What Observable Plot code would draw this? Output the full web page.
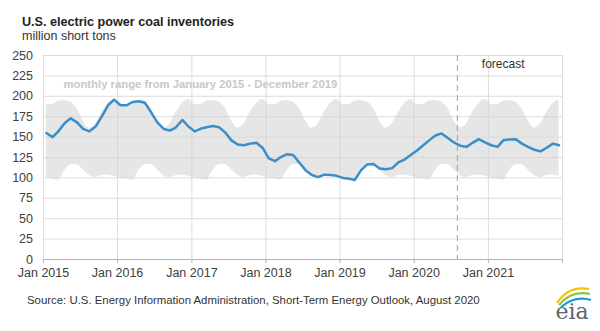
<!DOCTYPE html>
<html>
<head>
<meta charset="utf-8">
<script src="https://cdn.jsdelivr.net/npm/d3@7"></script>
<script src="https://cdn.jsdelivr.net/npm/@observablehq/plot@0.6"></script>
<style>
  html, body { margin: 0; padding: 0; background: #fff; }
  body { width: 600px; height: 331px; position: relative; overflow: hidden;
         font-family: "Liberation Sans", Arial, sans-serif; }
  #title { position: absolute; left: 22px; top: 14px; font-size: 12.6px; font-weight: bold; color: #222; line-height: 16px; white-space: nowrap; }
  #subtitle { position: absolute; left: 22px; top: 29px; font-size: 12.5px; color: #333; line-height: 15px; white-space: nowrap; }
  #chart { position: absolute; left: 0; top: 43px; }
  #source { position: absolute; left: 27px; top: 293px; font-size: 11.4px; color: #333; line-height: 14px; white-space: nowrap; }
  #logo { position: absolute; left: 549px; top: 281px; }
</style>
</head>
<body>
<div id="title">U.S. electric power coal inventories</div>
<div id="subtitle">million short tons</div>
<div id="chart"></div>
<div id="source">Source: U.S. Energy Information Administration, Short-Term Energy Outlook, August 2020</div>
<svg id="logo" width="46" height="44" viewBox="0 0 46 44">
  <path d="M8 22 Q20 4 40 8" fill="none" stroke="#f2c500" stroke-width="2.2"/>
  <path d="M10 24 Q22 9 41 13" fill="none" stroke="#8cc63f" stroke-width="2.2"/>
  <path d="M12 26 Q26 14 42 19" fill="none" stroke="#1a9ad6" stroke-width="2.2"/>
  <text x="23" y="38" text-anchor="middle" font-family="DejaVu Serif, serif" font-size="22" fill="#5b6670">eia</text>
</svg>
<script>
// ---- data (million short tons), monthly values Jan..Dec ----
const years = [2015, 2016, 2017, 2018, 2019, 2020, 2021];
const inv2015 = [155, 150, 157, 167, 173, 168, 160, 157, 163, 175, 189, 196];
const inv2016 = [189, 189, 193, 194, 192, 180, 168, 160, 158, 162, 171, 163];
const inv2017 = [157, 160.5, 162, 163.5, 162, 155.5, 146, 141, 140, 142, 143, 137];
const inv2018 = [124, 120.5, 125.5, 129, 128, 118.5, 109.5, 103.5, 101, 104, 103.5, 102.5];
const inv2019 = [100, 99, 97.5, 109.5, 116.5, 117, 111.5, 110.5, 112, 119, 122.5, 128];
const inv2020 = [133.5, 140, 146, 152, 154.5, 149, 143.5, 139.5, 138, 143, 147.5, 143.5];
const inv2021 = [140, 138, 146, 147, 147.5, 142, 138, 134.5, 132.5, 137, 142, 140];
const inventories = [inv2015, inv2016, inv2017, inv2018, inv2019, inv2020, inv2021];

// monthly range Jan 2015 - Dec 2019, Jan..Dec
const rangeMax = [190, 190, 194, 195, 193, 185, 170, 161, 166, 180, 191, 196];
const rangeMin = [100, 98.5, 97, 109, 116, 116.5, 110, 103, 100.5, 103, 103.5, 102];

const yTicks = [0, 25, 50, 75, 100, 125, 150, 175, 200, 225, 250];
const xTickYears = [2015, 2016, 2017, 2018, 2019, 2020, 2021, 2022];
const xTickLabels = ["Jan 2015", "Jan 2016", "Jan 2017", "Jan 2018", "Jan 2019", "Jan 2020", "Jan 2021", ""];
const forecastStart = "2020-08-01";
const rangeLabel = "monthly range from January 2015 - December 2019";
const forecastLabel = "forecast";

// ---- build table ----
const rows = [];
years.forEach((yr, i) => {
  inventories[i].forEach((v, m) => {
    rows.push({date: new Date(Date.UTC(yr, m, 15)), value: v, lo: rangeMin[m], hi: rangeMax[m]});
  });
});
const tickDates = xTickYears.map(y => new Date(Date.UTC(y, 0, 1)));
const forecastDate = new Date(forecastStart + "T00:00:00Z");

const chart = Plot.plot({
  width: 600,
  height: 241,
  marginTop: 12,
  marginBottom: 25,
  marginLeft: 43,
  marginRight: 38,
  style: {fontFamily: "Liberation Sans, Arial, sans-serif", fontSize: "12.5px", color: "#404040", background: "transparent", overflow: "visible"},
  x: {type: "utc", domain: [tickDates[0], tickDates[tickDates.length - 1]]},
  y: {domain: [0, 250]},
  marks: [
    Plot.areaY(rows, {x: "date", y1: "lo", y2: "hi", fill: "#e6e6e6", curve: "monotone-x"}),
    Plot.gridY(yTicks, {stroke: "#d4d4d4", strokeOpacity: 0.8}),
    Plot.gridX(tickDates, {stroke: "#d4d4d4", strokeOpacity: 0.8}),
    Plot.ruleX([forecastDate], {stroke: "#a0a0a0", strokeDasharray: "6,4", strokeWidth: 1}),
    Plot.lineY(rows, {x: "date", y: "value", stroke: "#3a8ec9", strokeWidth: 2.5}),
    Plot.ruleY([0], {stroke: "#b3b3b3", strokeWidth: 1.2}),
    Plot.axisY(yTicks, {tickSize: 0, tickPadding: 10.5, label: null, fill: "#404040"}),
    Plot.axisX(tickDates, {tickSize: 4, tickPadding: 5, label: null, stroke: "#b3b3b3", fill: "#404040",
      tickFormat: (d, i) => xTickLabels[i]}),
    Plot.text([rangeLabel], {x: () => tickDates[0], y: () => 215, text: d => d, dx: 20, textAnchor: "start",
      lineAnchor: "middle", fill: "#c8c8c8", fontWeight: "bold", fontSize: 11.3}),
    Plot.text([forecastLabel], {x: () => forecastDate, y: () => 239, text: d => d, dx: 24.5, textAnchor: "start",
      lineAnchor: "middle", fill: "#333", fontSize: 12})
  ]
});
document.getElementById("chart").appendChild(chart);
</script>
</body>
</html>
